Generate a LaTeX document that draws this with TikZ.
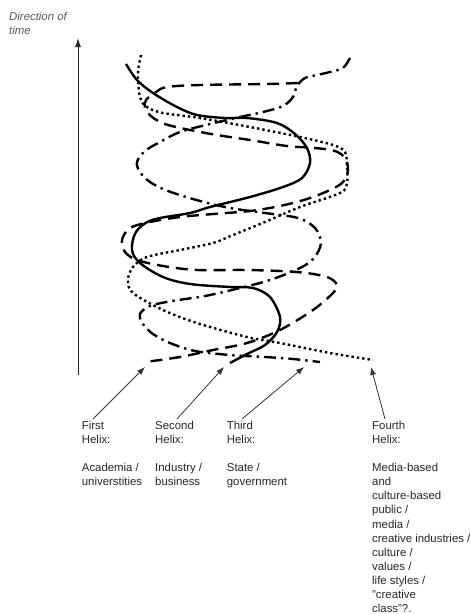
\documentclass[tikz,border=0pt]{standalone}
\usepackage{fontspec}
\setmainfont{Liberation Sans}
\usetikzlibrary{arrows.meta}
\begin{document}
\begin{tikzpicture}[x=1pt,y=-1pt,
  helixline/.style={line width=2.4pt, line join=round, black},
  solidhelix/.style={helixline},
  dashhelix/.style={helixline, dash pattern=on 12pt off 7pt},
  dothelix/.style={helixline, dash pattern=on 2.4pt off 3pt},
  dashdothelix/.style={helixline, dash pattern=on 12pt off 5pt on 2.4pt off 5pt},
  pointer/.style={line width=0.8pt, black!80, -{Latex[length=8pt,width=6pt]}},
  lbl/.style={inner sep=0pt, anchor=base west, align=left, text=black!85,
    font=\fontsize{11.4}{14.1}\selectfont},
  timelbl/.style={lbl, text=black!65, font=\fontsize{11.4}{13.5}\selectfont\itshape}]
\useasboundingbox (0,0) rectangle (471,614);

% time axis (base anchor = baseline of the last line)
\node[timelbl] (timetext) at (9,34) {Direction of\\time};
\coordinate (tbot) at (78,375);
\coordinate (ttop) at (78,38);
\draw[line width=0.9pt, black!85, -{Latex[length=9pt,width=6pt]}] (tbot) -- (ttop);

% dashed helix (first)
\draw[dashhelix] plot[smooth, tension=0.55] coordinates {
 (298,83) (267,84) (200,85) (167,87) (156,92) (146,100) (145,108) (152,117)
 (165,124) (185,129) (217,135) (250,140) (287,146) (315,148) (335,151)
 (345,158) (348,170) (343,182) (330,190) (307,199) (280,206) (250,211)
 (213,214) (180,217) (150,222) (130,228) (122,240) (125,252) (137,260)
 (163,266) (197,270) (247,270) (297,272) (327,277) (337,285) (333,293)
 (313,310) (280,330) (247,343) (213,350) (180,357) (145,362)};

% dash-dot helix (third)
\draw[dashdothelix] plot[smooth, tension=0.55] coordinates {
 (350,58) (343,68) (330,72) (317,75) (305,78) (297,86) (293,97) (283,106)
 (263,112) (240,117) (210,124) (180,132) (160,142) (145,151) (137,162)
 (140,172) (150,182) (168,191) (200,201) (230,208) (265,213) (298,218)
 (315,228) (321,243) (314,258) (300,268) (270,280) (240,288) (205,296)
 (172,301) (150,306) (140,314) (143,324) (153,334) (170,343) (195,351)
 (230,355) (265,357) (293,359) (320,362)};

% dotted helix (fourth)
\draw[dothelix] plot[smooth, tension=0.55] coordinates {
 (141,55) (138,73) (140,97) (147,107) (163,113) (200,118) (250,127)
 (300,137) (333,145) (345,152) (347,167) (347,183) (340,193) (300,207)
 (265,222) (233,235) (213,243) (180,250) (147,257) (133,267) (128,280)
 (133,293) (163,310) (197,323) (247,337) (280,343) (330,353) (373,360)};

% solid helix (second)
\draw[solidhelix] plot[smooth, tension=0.55] coordinates {
 (126,64) (137,80) (153,93) (177,107) (197,115) (225,118) (247,118)
 (277,123) (295,134) (307,148) (310,163) (302,178) (283,187) (250,197)
 (210,207) (190,213) (152,220) (136,232) (132,250) (140,263) (163,277)
 (190,284) (230,287) (253,288) (270,297) (280,317) (277,332) (265,345)
 (247,354) (230,363)};

% labels (base anchor = baseline of the last line)
\node[lbl] (first) at (81.7,485.9) {First\\Helix:\\[14.1pt]Academia /\\universtities};
\node[lbl] (second) at (155,485.9) {Second\\Helix:\\[14.1pt]Industry /\\business};
\node[lbl] (third) at (226.7,485.9) {Third\\Helix:\\[14.1pt]State /\\government};
\node[lbl] (fourth) at (372,612.6) {Fourth\\Helix:\\[14.1pt]Media-based\\and\\culture-based\\public /\\media /\\creative industries /\\culture /\\values /\\life styles /\\"creative\\class"?.};

% arrows
\coordinate (a1t) at (93,419); \coordinate (a1h) at (145,367);
\coordinate (a2t) at (177,419); \coordinate (a2h) at (224,367);
\coordinate (a3t) at (242,419); \coordinate (a3h) at (304,367);
\coordinate (a4t) at (385,419); \coordinate (a4h) at (371,367);
\draw[pointer] (a1t) -- (a1h);
\draw[pointer] (a2t) -- (a2h);
\draw[pointer] (a3t) -- (a3h);
\draw[pointer] (a4t) -- (a4h);
\end{tikzpicture}
\end{document}
